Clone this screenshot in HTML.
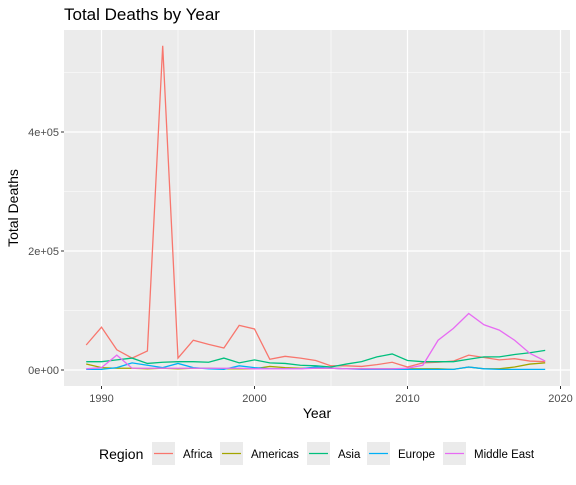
<!DOCTYPE html>
<html><head><style>
body{margin:0;background:#fff;font-family:"Liberation Sans",sans-serif}
</style></head><body>
<svg width="576" height="480" xmlns="http://www.w3.org/2000/svg" font-family="Liberation Sans, sans-serif">
<text x="64" y="20" font-size="17" fill="#000">Total Deaths by Year</text>
<rect x="64" y="30" width="506" height="356" fill="#ebebeb"/>
<g id="grid"></g>
<g id="series"></g>
<g id="axes"></g>
<text x="317" y="418" font-size="14" text-anchor="middle">Year</text>
<text transform="translate(18,208) rotate(-90)" font-size="14" text-anchor="middle">Total Deaths</text>
<g id="legend"></g>
</svg>
<script>
const years=[];for(let y=1989;y<=2019;y++)years.push(y);
const africa=[42000,72000,34000,20000,32000,545000,20000,50000,43000,37000,75000,69000,18000,23000,20000,16000,7000,7000,6000,9000,13000,5000,12000,13000,15000,25000,21000,17000,19000,15000,14000];
const americas=[10000,4000,3000,3000,2000,3000,2000,3000,3000,2000,2000,2000,6000,4000,3000,3000,3000,2000,2000,2000,2000,2000,2000,2000,1000,5000,2000,2000,5000,10000,12000];
const asia=[14000,14000,17000,20000,11000,13000,14000,14000,13000,20000,12000,17000,12000,11000,8000,7000,5000,10000,14000,22000,27000,16000,14000,14000,14000,18000,22000,22000,26000,29000,33000];
const europe=[1000,1000,4000,12000,8000,4000,11000,4000,2000,1000,7000,4000,2000,2000,2000,5000,3000,2000,1000,1000,1000,1000,1000,1000,1000,5000,2000,1000,1000,1000,1000];
const mideast=[2000,4000,25000,3000,3000,3000,3000,3000,3000,3000,3000,2000,2000,2000,2000,3000,3000,2000,2000,2000,2000,3000,8000,50000,70000,95000,76000,67000,50000,28000,15000];
const xTicks=[1990,2000,2010,2020];
const yTicks=[0,200000,400000];
const yLabels=["0e+00","2e+05","4e+05"];
const regions=["Africa","Americas","Asia","Europe","Middle East"];
const colors=["#F8766D","#A3A500","#00BF7D","#00B0F6","#E76BF3"];
const data=[africa,americas,asia,europe,mideast];
const X=y=>101.5+(y-1990)*15.3;
const Y=v=>370-v*119/200000;
const NS="http://www.w3.org/2000/svg";
function mk(t,a,p){const e=document.createElementNS(NS,t);for(const k in a)e.setAttribute(k,a[k]);p.appendChild(e);return e;}
const grid=document.getElementById('grid'),axes=document.getElementById('axes');
[1995,2005,2015].forEach(v=>{const l=mk('line',{x1:X(v),x2:X(v),y1:30,y2:386,stroke:'#fff','stroke-width':0.6},grid);});
[100000,300000,500000].forEach(v=>{const l=mk('line',{x1:64,x2:570,y1:Y(v),y2:Y(v),stroke:'#fff','stroke-width':0.6},grid);});
xTicks.forEach(v=>{const l=mk('line',{x1:X(v),x2:X(v),y1:30,y2:386,stroke:'#fff','stroke-width':1.2},grid);
const t=mk('line',{x1:X(v),x2:X(v),y1:386,y2:389,stroke:'#333'},axes);
const tx=mk('text',{x:X(v),y:402,'font-size':11,'text-anchor':'middle',fill:'#4d4d4d'},axes);tx.textContent=v;});
yTicks.forEach((v,i)=>{const l=mk('line',{x1:64,x2:570,y1:Y(v),y2:Y(v),stroke:'#fff','stroke-width':1.2},grid);
const t=mk('line',{x1:61,x2:64,y1:Y(v),y2:Y(v),stroke:'#333'},axes);
const tx=mk('text',{x:59,y:Y(v)+4,'font-size':11,'text-anchor':'end',fill:'#4d4d4d'},axes);tx.textContent=yLabels[i];});
const ser=document.getElementById('series');
data.forEach((d,i)=>{const p=mk('polyline',{points:d.map((v,j)=>X(years[j])+','+Y(v)).join(' '),fill:'none',stroke:colors[i],'stroke-width':1.3},ser);
});
const lg=document.getElementById('legend');
const lt=mk('text',{x:99,y:459,'font-size':14},lg);lt.textContent='Region';
const lx=[152,220,307,367,443];
regions.forEach((r,i)=>{const g=mk('g',{},lg);
mk('rect',{x:lx[i],y:442,width:23,height:23,fill:'#ebebeb'},g);
mk('line',{x1:lx[i]+2,x2:lx[i]+21,y1:453.5,y2:453.5,stroke:colors[i],'stroke-width':1.3},g);
const t=mk('text',{x:lx[i]+31,y:458,'font-size':11.5},g);t.textContent=r;});
</script>
</body></html>
